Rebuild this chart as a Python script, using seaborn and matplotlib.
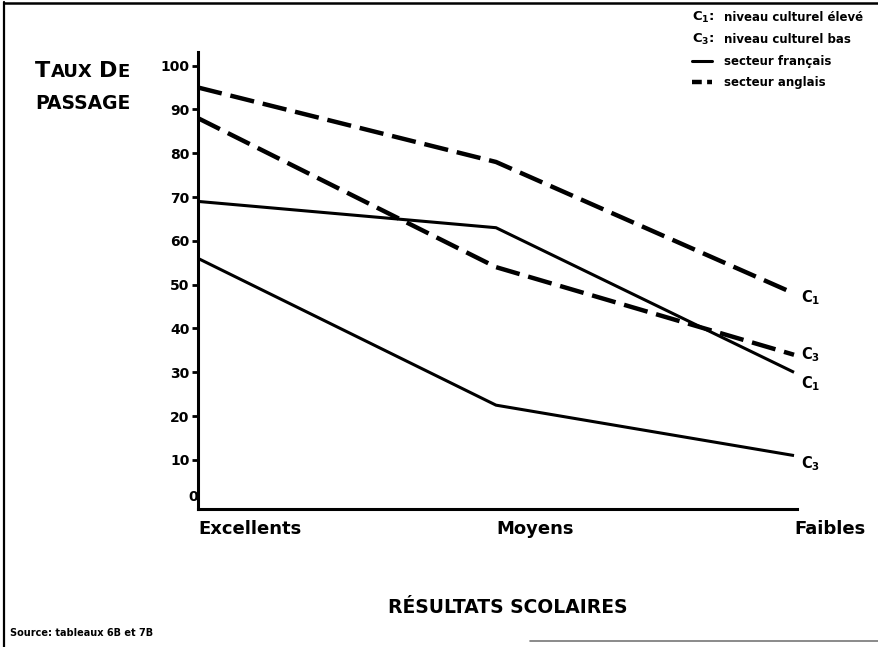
import matplotlib
matplotlib.use("Agg")
import matplotlib.pyplot as plt
from matplotlib.lines import Line2D
import numpy as np
import pandas as pd
import seaborn as sns

# ---------------- data ----------------
categories = ["Excellents", "Moyens", "Faibles"]
francais_c1 = [69, 63, 30]
francais_c3 = [56, 22.5, 11]
anglais_c1 = [95, 78, 48]
anglais_c3 = [88, 54, 34]
yticks = [10, 20, 30, 40, 50, 60, 70, 80, 90, 100]
end_labels = ["C$_\\mathbf{1}$", "C$_\\mathbf{3}$"]

rows = []
for sect, c1, c3 in [("français", francais_c1, francais_c3),
                     ("anglais", anglais_c1, anglais_c3)]:
    for niv, vals in [("C1", c1), ("C3", c3)]:
        for i, (cat, v) in enumerate(zip(categories, vals)):
            rows.append({"secteur": sect, "niveau": niv, "pos": i,
                         "resultat": cat, "taux": v})
df = pd.DataFrame(rows)

# ---------------- style ----------------
sns.set_theme(style="white")
plt.rcParams["font.family"] = ["DejaVu Sans"]
plt.rcParams["font.weight"] = "bold"
plt.rcParams["mathtext.fontset"] = "dejavusans"
plt.rcParams["mathtext.default"] = "bf"
plt.rcParams["text.color"] = "black"
plt.rcParams["xtick.color"] = "black"
plt.rcParams["ytick.color"] = "black"
plt.rcParams["xtick.labelcolor"] = "black"
plt.rcParams["ytick.labelcolor"] = "black"

W, H = 879, 647
fig = plt.figure(figsize=(W / 100, H / 100), dpi=100)
fig.patch.set_facecolor("white")

def fx(px):
    return px / W

def fy(py):
    return 1 - py / H

ax = fig.add_axes([fx(198), fy(509), fx(797) - fx(198), fy(52) - fy(509)])

sns.lineplot(data=df[df.secteur == "français"], x="pos", y="taux",
             units="niveau", estimator=None, color="black",
             linewidth=2.2, ax=ax, legend=False)
sns.lineplot(data=df[df.secteur == "anglais"], x="pos", y="taux",
             units="niveau", estimator=None, color="black",
             linewidth=3.2, ax=ax, legend=False)
for ln in ax.lines[2:]:
    ln.set_dashes((5.5, 2.0))
for ln in ax.lines:
    ln.set_solid_capstyle("butt")
    ln.set_dash_capstyle("butt")

ax.set_xlim(0, 2.01)
ax.set_ylim(-1.2, 103.1)
ax.set_xlabel("")
ax.set_ylabel("")

ax.set_yticks(yticks)
ax.set_yticklabels([str(v) for v in yticks], fontsize=10, fontweight="bold",
                   color="black")
ax.tick_params(axis="y", left=True, length=4, width=2, direction="out",
               color="black", pad=2)
ax.set_xticks(range(len(categories)))
ax.set_xticklabels(categories, fontsize=13, fontweight="bold", color="black")
for lab in ax.get_xticklabels():
    lab.set_ha("left")
ax.tick_params(axis="x", bottom=False, pad=2)

# "0" label without tick
ax.text(-0.0, 1.6, "0", transform=ax.get_yaxis_transform(),
        ha="right", va="center", fontsize=10, fontweight="bold", color="black")

for s in ["top", "right"]:
    ax.spines[s].set_visible(False)
for s in ["left", "bottom"]:
    ax.spines[s].set_color("black")
    ax.spines[s].set_linewidth(2.2)

# end labels (C1 / C3) at line ends
ends = [(anglais_c1[-1], end_labels[0], -3),
        (anglais_c3[-1], end_labels[1], 0),
        (francais_c1[-1], end_labels[0], -8),
        (francais_c3[-1], end_labels[1], -6)]
for val, lab, dy in ends:
    ax.annotate(lab, xy=(2.0, val), xytext=(5, dy), textcoords="offset points",
                ha="left", va="center", fontsize=10.5, color="black",
                annotation_clip=False)

# ---------------- texts outside axes ----------------
renderer = fig.canvas.get_renderer()

def seq_text(x, y, parts):
    cur = x
    for txt, size in parts:
        if txt == " ":
            cur += size * 0.45
            continue
        t = fig.text(fx(cur), fy(y), txt, fontsize=size, fontweight="bold",
                     ha="left", va="baseline", color="black")
        bb = t.get_window_extent(renderer)
        cur = bb.x1 + 0.5

seq_text(35, 77, [("T", 16), ("AUX", 13), (" ", 13), ("D", 16), ("E", 13)])
seq_text(35, 109, [("PASSAGE", 13.5)])

fig.text(fx(508), fy(613), "RÉSULTATS SCOLAIRES", fontsize=13.5,
         fontweight="bold", ha="center", va="baseline", color="black")

fig.text(fx(10), fy(636), "Source: tableaux 6B et 7B", fontsize=7,
         fontweight="bold", ha="left", va="baseline", color="black")

# legend (top right)
leg_x_sym = 692
leg_x_txt = 724
leg_rows = [21, 43, 65, 86]
fig.text(fx(leg_x_sym), fy(leg_rows[0]), "C$_\\mathbf{1}$:", fontsize=9.5,
         ha="left", va="baseline", color="black")
fig.text(fx(leg_x_sym), fy(leg_rows[1]), "C$_\\mathbf{3}$:", fontsize=9.5,
         ha="left", va="baseline", color="black")
legend_texts = ["niveau culturel élevé", "niveau culturel bas",
                "secteur français", "secteur anglais"]
for r, t in zip(leg_rows, legend_texts):
    fig.text(fx(leg_x_txt), fy(r), t, fontsize=8.5, fontweight="bold",
             ha="left", va="baseline", color="black")
fig.add_artist(Line2D([fx(692), fx(712)], [fy(leg_rows[2] - 4)] * 2,
                      transform=fig.transFigure, color="black", lw=2.2))
fig.add_artist(Line2D([fx(692), fx(712)], [fy(leg_rows[3] - 4)] * 2,
                      transform=fig.transFigure, color="black", lw=3.2,
                      dashes=(2.2, 1.2), dash_capstyle="butt"))

# page frame
fig.add_artist(Line2D([fx(4), fx(4)], [0, fy(2)], transform=fig.transFigure,
                      color="black", lw=1.6))
fig.add_artist(Line2D([fx(4), 1], [fy(3), fy(3)], transform=fig.transFigure,
                      color="black", lw=1.8))
fig.add_artist(Line2D([fx(530), 1], [fy(641), fy(641)],
                      transform=fig.transFigure, color="#777777", lw=1.2))

fig.savefig("out.png", dpi=100, facecolor="white")
